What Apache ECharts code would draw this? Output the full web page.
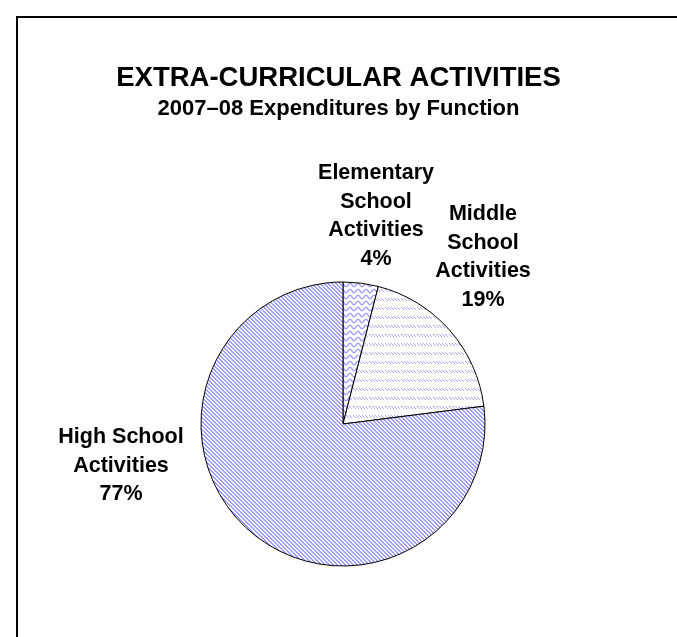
<!DOCTYPE html>
<html>
<head>
<meta charset="utf-8">
<script src="https://cdn.jsdelivr.net/npm/echarts@6/dist/echarts.min.js"></script>
<style>
  html, body { margin: 0; padding: 0; background: #ffffff; }
  #chart { width: 677px; height: 637px; }
</style>
</head>
<body>
<div id="chart"></div>
<script>
// Extra-curricular spending shares, 2007-08
const categories = ['Elementary\nSchool\nActivities', 'Middle\nSchool\nActivities', 'High School\nActivities'];
const shares = [4, 19, 77];

const titleText = 'EXTRA-CURRICULAR ACTIVITIES';
const subtitleText = '2007\u201308 Expenditures by Function';

const FONT = '"Liberation Sans", Arial, sans-serif';

// Fill patterns drawn on small tiles
function tile(w, h, draw) {
  const c = document.createElement('canvas');
  c.width = w; c.height = h;
  const ctx = c.getContext('2d');
  ctx.fillStyle = '#ffffff';
  ctx.fillRect(0, 0, w, h);
  draw(ctx, w, h);
  return { image: c, repeat: 'repeat' };
}

// wide diagonal stripes (high school)
const stripes = tile(4, 4, (ctx) => {
  ctx.fillStyle = '#9d9dff';
  for (let y = 0; y < 4; y++) {
    for (let x = 0; x < 4; x++) {
      if (((x - y) % 4 + 4) % 4 < 2) ctx.fillRect(x, y, 1, 1);
    }
  }
});

// wavy horizontal lines (elementary)
const waves = tile(8, 6, (ctx) => {
  ctx.strokeStyle = '#9c9cff';
  ctx.lineWidth = 1.3;
  ctx.beginPath();
  for (let x = -1; x <= 9; x += 0.5) {
    const y = 3 + 1.7 * Math.sin((x / 8) * Math.PI * 2);
    if (x === -1) ctx.moveTo(x, y); else ctx.lineTo(x, y);
  }
  ctx.stroke();
});

// rows of short slanted dashes in groups (middle school)
const dashes = tile(16, 9, (ctx) => {
  ctx.fillStyle = '#a8a8ff';
  for (let k = 0; k < 5; k++) {
    const x0 = 1 + k * 3;
    for (let d = 0; d < 3; d++) ctx.fillRect(x0 + d, 1 + d, 1, 1);
  }
});

const fills = [waves, dashes, stripes];

// label anchor points (pixels) for each slice
const labelAnchors = [[376, 216], [483, 257], [121, 466]];

const chart = echarts.init(document.getElementById('chart'), null, { renderer: 'canvas' });

chart.setOption({
  backgroundColor: '#ffffff',
  animation: false,
  graphic: [{
    type: 'rect',
    shape: { x: 17, y: 17, width: 700, height: 700 },
    style: { fill: 'none', stroke: '#000000', lineWidth: 2 },
    silent: true
  }],
  title: [{
    text: titleText,
    left: 'center',
    top: 59,
    textStyle: { fontFamily: FONT, fontWeight: 'bold', fontSize: 27.5, color: '#000' }
  }, {
    text: subtitleText,
    left: 'center',
    top: 93,
    textStyle: { fontFamily: FONT, fontWeight: 'bold', fontSize: 22, color: '#000' }
  }],
  series: [{
    type: 'pie',
    center: [343, 424],
    radius: 142,
    startAngle: 90,
    clockwise: true,
    percentPrecision: 0,
    data: categories.map((name, i) => ({
      name: name,
      value: shares[i],
      itemStyle: { color: fills[i] }
    })),
    itemStyle: { borderColor: '#000000', borderWidth: 1 },
    label: {
      show: true,
      position: 'outside',
      formatter: '{b}\n{d}%',
      fontFamily: FONT,
      fontWeight: 'bold',
      fontSize: 21.5,
      lineHeight: 28.5,
      color: '#000',
      align: 'center'
    },
    labelLine: { show: false },
    labelLayout: function (p) {
      const a = labelAnchors[p.dataIndex];
      return { x: a[0], y: a[1], align: 'center', verticalAlign: 'middle' };
    },
    emphasis: { disabled: true }
  }]
});
</script>
</body>
</html>
